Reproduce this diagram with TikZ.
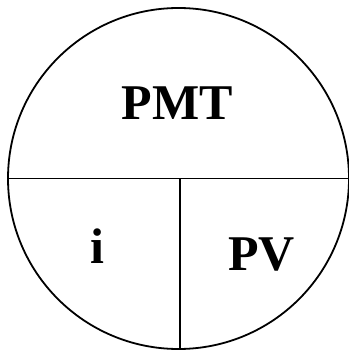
\documentclass[tikz,border=0pt]{standalone}
\usepackage{fontspec}
\setmainfont{Liberation Serif}
\usetikzlibrary{positioning}
\tikzset{
  rim/.style    = {circle, draw=black, line width=1.8pt, inner sep=0pt,
                   minimum size=341pt},
  split/.style  = {draw=black, line width=1.8pt},
  lbl/.style    = {font=\fontsize{50}{50}\selectfont\bfseries, anchor=base,
                   inner sep=0pt},
}
\begin{document}
\begin{tikzpicture}[x=1pt, y=-1pt]
\useasboundingbox (0,0) rectangle (348,352);

% ============================ outer circle =================================
\node[rim] (dial) at (178.5,178.5) {};

% ============================ dividing lines ===============================
\coordinate (cut) at (180,178.5);
\draw[split] (dial.west) -- (dial.east);
\draw[split] (cut) -- (cut |- dial.south);

% ================================ labels ===================================
\node[lbl] (pmt) at (177,120) {PMT};
\node[lbl] (rate) at (97,263) {i};
\node[lbl] (pv) at (261.5,270) {PV};

\end{tikzpicture}
\end{document}
